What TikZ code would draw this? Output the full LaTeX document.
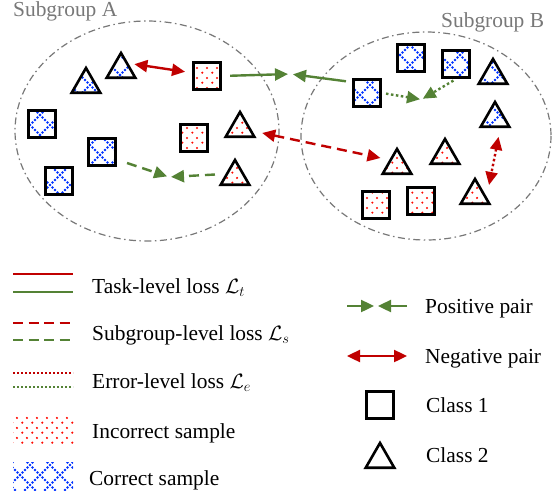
\documentclass[tikz,border=0pt]{standalone}
\usepackage{fontspec}
\setmainfont{Liberation Serif}
\newfontfamily\timesface{Liberation Serif}
\usepackage{amsmath}
\usetikzlibrary{arrows.meta,calc,positioning,shapes.geometric,patterns.meta}

\definecolor{negred}{RGB}{192,0,0}
\definecolor{posgreen}{RGB}{84,130,53}
\definecolor{dotred}{RGB}{255,10,0}
\definecolor{dotblue}{RGB}{0,50,255}
\definecolor{groupgray}{RGB}{120,120,120}

% fills for the samples
\pgfdeclarepattern{
  name=incorrectdots,
  type=uncolored,
  bottom left={\pgfpoint{0pt}{0pt}},
  top right={\pgfpoint{10pt}{10pt}},
  tile size={\pgfpoint{10pt}{10pt}},
  code={
    \pgfpathcircle{\pgfpoint{2.5pt}{2.5pt}}{1.25pt}
    \pgfpathcircle{\pgfpoint{7.5pt}{7.5pt}}{1.25pt}
    \pgfusepath{fill}
  }
}
\pgfdeclarepattern{
  name=correctcross,
  type=uncolored,
  bottom left={\pgfpoint{-1.5pt}{-1.5pt}},
  top right={\pgfpoint{21.5pt}{21.5pt}},
  tile size={\pgfpoint{20pt}{20pt}},
  code={
    \pgfsetlinewidth{2pt}
    \pgfsetbuttcap
    \pgfsetdash{{1.8pt}{1.735pt}}{0.9pt}
    \pgfpathmoveto{\pgfpoint{0pt}{0pt}}
    \pgfpathlineto{\pgfpoint{20pt}{20pt}}
    \pgfpathmoveto{\pgfpoint{0pt}{20pt}}
    \pgfpathlineto{\pgfpoint{20pt}{0pt}}
    \pgfusepath{stroke}
  }
}

\begin{document}
\begin{tikzpicture}[x=1pt,y=-1pt,>=Stealth,
  sample/.style={draw, line width=2.6pt, inner sep=0pt},
  sq/.style={sample, minimum size=27.5pt},
  tri/.style={sample, regular polygon, regular polygon sides=3, minimum size=33pt},
  incorrect/.style={pattern=incorrectdots, pattern color=dotred},
  correct/.style={pattern=correctcross, pattern color=dotblue},
  group/.style={draw=groupgray, line width=1.2pt, dash pattern=on 7pt off 3.5pt on 1.5pt off 3.5pt},
  loss/.style={line width=2.4pt},
  pospair/.style={loss, draw=posgreen, -{Triangle[length=13pt,width=12pt]}},
  negpair/.style={loss, draw=negred, {Triangle[length=13pt,width=12pt]}-{Triangle[length=13pt,width=12pt]}},
  subdash/.style={dash pattern=on 10pt off 6pt},
  errdot/.style={dash pattern=on 2.5pt off 2.5pt},
  legtext/.style={anchor=base west, inner sep=0pt, font=\timesface\fontsize{21.4}{25}\selectfont}]
  \useasboundingbox (0,0) rectangle (559,495);
  % Two subgroups as ovals
  \draw[group] (147,131) ellipse (132 and 110);
  \draw[group] (426,136) ellipse (125 and 104);
  \node[legtext, text=groupgray] (ga) at (13,17) {Subgroup A};
  \node[legtext, text=groupgray] (gb) at (441,28) {Subgroup B};
  % Samples in A
  \node[tri, correct]   (a1) at (86,84.5) {};
  \node[tri, correct]   (a2) at (121,69.5) {};
  \node[sq, incorrect]  (a3) at (207,76) {};
  \node[sq, correct]    (a4) at (42,124) {};
  \node[sq, correct]    (a5) at (102,152) {};
  \node[sq, correct]    (a6) at (59,181) {};
  \node[sq, incorrect]  (a7) at (194,138) {};
  \node[tri, incorrect] (a8) at (240,128.5) {};
  \node[tri, incorrect] (a9) at (235,176.5) {};
  % Samples in B
  \node[sq, correct]    (b1) at (367,93) {};
  \node[sq, correct]    (b2) at (411,58) {};
  \node[sq, correct]    (b3) at (456,64) {};
  \node[tri, correct]   (b4) at (493,75.5) {};
  \node[tri, correct]   (b5) at (495,118.5) {};
  \node[tri, incorrect] (b6) at (397,165.5) {};
  \node[tri, incorrect] (b7) at (445,155.5) {};
  \node[tri, incorrect] (b8) at (475,195.5) {};
  \node[sq, incorrect]  (b9) at (376,205) {};
  \node[sq, incorrect]  (b10) at (421,201) {};
  % Meeting points of positive pairs
  \coordinate (m1) at (290.5,74);
  \coordinate (m2) at (421.5,99.5);
  \coordinate (m3) at (169,177);
  % Task level
  \draw[negpair, shorten <=6pt, shorten >=7pt] (a2.40) -- (a3.168);
  \draw[pospair, shorten <=8pt, shorten >=2.5pt] (a3.east) -- (m1);
  \draw[pospair, shorten <=6pt, shorten >=2.5pt] (b1.144) -- (m1);
  % Subgroup level
  \draw[negpair, subdash, shorten <=10pt, shorten >=9pt] (a8.-11) -- (b6.144);
  \draw[pospair, subdash, shorten <=10.5pt, shorten >=2pt] (a5.-27) -- (m3);
  \draw[pospair, subdash, shorten <=10.5pt, shorten >=2pt] (a9.165) -- (m3);
  % Error level
  \draw[pospair, errdot, shorten <=4pt, shorten >=1.5pt] (b1.east) -- (m2);
  \draw[pospair, errdot, shorten <=3pt, shorten >=1.5pt] (b3.south) -- (m2);
  \draw[negpair, errdot, shorten <=9pt, shorten >=12pt] (b5.-61) -- (b8.-6);
  % Legend, left column
  \draw[line width=2.2pt, negred]   (13,274) -- (73,274);
  \draw[line width=2.2pt, posgreen] (13,292) -- (73,292);
  \draw[line width=2.2pt, negred, dash pattern=on 10pt off 5.5pt]   (13,323) -- (73,323);
  \draw[line width=2.2pt, posgreen, dash pattern=on 10pt off 5.5pt] (13,340) -- (73,340);
  \draw[line width=1.8pt, negred, dash pattern=on 2pt off 2pt]   (13,373) -- (73,373);
  \draw[line width=1.8pt, posgreen, dash pattern=on 2pt off 2pt] (13,387) -- (73,387);
  \path[incorrect] (13,415) rectangle (74,443);
  \path[correct]   (13,462) rectangle (73,490);
  \node[legtext] (t1) at (92,293) {Task-level loss $\mathcal{L}_t$};
  \node[legtext] (t2) at (92,340) {Subgroup-level loss $\mathcal{L}_s$};
  \node[legtext] (t3) at (92,388) {Error-level loss $\mathcal{L}_e$};
  \node[legtext] (t4) at (92,438) {Incorrect sample};
  \node[legtext] (t5) at (89,485) {Correct sample};
  % Legend, right column
  \draw[pospair] (347,306) -- (374,306);
  \draw[pospair] (407,306) -- (378,306);
  \draw[negpair] (347,356) -- (407,356);
  \node[sq]  (c1) at (380,405) {};
  \node[tri] (c2) at (380,459.5) {};
  \node[legtext] (t6) at (425,313) {Positive pair};
  \node[legtext] (t7) at (425,363) {Negative pair};
  \node[legtext] (t8) at (426,412) {Class 1};
  \node[legtext] (t9) at (426,462) {Class 2};
\end{tikzpicture}
\end{document}
